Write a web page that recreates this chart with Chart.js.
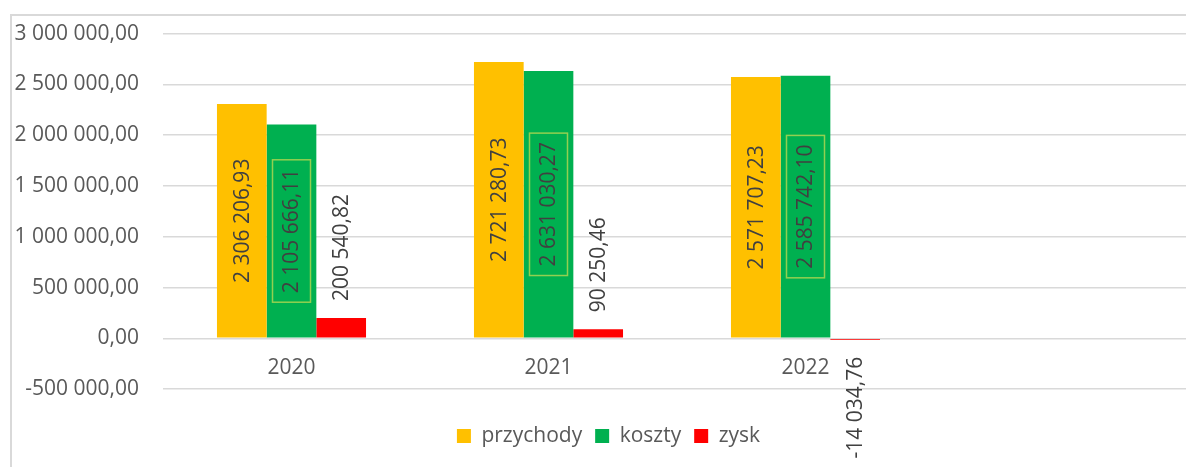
<!DOCTYPE html>
<html lang="pl">
<head>
<meta charset="utf-8">
<title>przychody, koszty, zysk</title>
<script src="https://cdn.jsdelivr.net/npm/chart.js@4.4.1/dist/chart.umd.min.js"></script>
<style>
  html, body { margin: 0; padding: 0; background: #fff; overflow: hidden; }
  body { width: 1186px; height: 467px; position: relative; }
  .frame {
    position: absolute; left: 10px; top: 14px;
    width: 1300px; height: 600px;
    border: 2px solid #d9d9d9; box-sizing: border-box;
  }
  .wrap { position: absolute; left: 0; top: -3px; width: 1200px; height: 467px; }
</style>
</head>
<body>
<div class="frame"></div>
<div class="wrap"><canvas id="chart"></canvas></div>
<script>
// --- DATA ---
const categories = ["2020", "2021", "2022", ""];
const przychody = [2306206.93, 2721280.73, 2571707.23, null];
const koszty = [2105666.11, 2631030.27, 2585742.1, null];
const zysk = [200540.82, 90250.46, -14034.76, null];
const yTicksMin = -500000;
const yTicksMax = 3000000;
const yTicksStep = 500000;

const FONT = '"Open Sans", "Noto Sans", sans-serif';

// 1234567.8 -> "1 234 567,80"
function plFormat(v) {
  const parts = Math.abs(v).toFixed(2).split(".");
  const whole = parts[0].replace(/\B(?=(\d{3})+(?!\d))/g, " ");
  return (v < 0 ? "-" : "") + whole + "," + parts[1];
}

// --- VALUE LABELS (rotated, like the Excel data labels) ---
const valueLabels = {
  id: "valueLabels",
  afterLayout(chart) {
    // Excel centres the legend a bit to the right of the plot's centre
    if (chart.legend) chart.legend.left += 26;
  },
  afterDatasetsDraw(chart) {
    const ctx = chart.ctx;
    chart.data.datasets.forEach((ds, i) => {
      const meta = chart.getDatasetMeta(i);
      if (meta.hidden) return;
      meta.data.forEach((bar, j) => {
        const v = ds.data[j];
        if (v == null) return;
        const text = plFormat(v);
        ctx.save();
        ctx.font = "21px " + FONT;
        const w = ctx.measureText(text).width;
        let cy;
        if (ds.labelMode === "inside") {
          cy = (bar.y + bar.base) / 2;
        } else if (v >= 0) {
          cy = bar.y - 17 - w / 2;
        } else {
          cy = Math.max(bar.y, bar.base) + 17 + w / 2;
        }
        ctx.translate(bar.x, cy);
        ctx.rotate(-Math.PI / 2);
        ctx.textAlign = "center";
        ctx.textBaseline = "middle";
        ctx.fillStyle = "#404040";
        ctx.fillText(text, 0, 1);
        if (ds.labelBox) {
          ctx.strokeStyle = ds.labelBox;
          ctx.lineWidth = 1.5;
          ctx.strokeRect(-w / 2 - 9, -19, w + 18, 38);
        }
        ctx.restore();
      });
    });
  }
};

document.addEventListener("DOMContentLoaded", () => {
  const ctx = document.getElementById("chart").getContext("2d");

  new Chart(ctx, {
    type: "bar",
    data: {
      labels: categories,
      datasets: [
        {
          label: "przychody",
          data: przychody,
          backgroundColor: "#FFC000",
          labelMode: "inside"
        },
        {
          label: "koszty",
          data: koszty,
          backgroundColor: "#00B050",
          labelMode: "inside",
          labelBox: "#92D050"
        },
        {
          label: "zysk",
          data: zysk,
          backgroundColor: "#FF0000",
          labelMode: "outside"
        }
      ]
    },
    options: {
      responsive: true,
      maintainAspectRatio: false,
      animation: false,
      layout: { padding: { top: 30, left: 0, right: 9, bottom: 7.5 } },
      datasets: {
        bar: { categoryPercentage: 0.58, barPercentage: 1.0, borderWidth: 0 }
      },
      scales: {
        x: {
          position: { y: 0 },
          grid: { display: false, drawTicks: false },
          border: { display: false },
          ticks: {
            color: "#595959",
            font: { family: FONT, size: 21 },
            padding: 17,
            maxRotation: 0
          }
        },
        y: {
          min: yTicksMin,
          max: yTicksMax,
          afterFit: (scale) => { scale.width = 163; },
          grid: { color: "#d9d9d9", lineWidth: 1.5, drawTicks: false },
          border: { display: false },
          ticks: {
            stepSize: yTicksStep,
            color: "#595959",
            font: { family: FONT, size: 21 },
            padding: 24,
            callback: (value) => plFormat(value)
          }
        }
      },
      plugins: {
        legend: {
          position: "bottom",
          title: { display: true, text: "", padding: 4.5, font: { size: 12 } },
          labels: {
            boxWidth: 14,
            boxHeight: 14,
            padding: 13,
            color: "#595959",
            font: { family: FONT, size: 21 }
          }
        },
        tooltip: { enabled: false }
      }
    },
    plugins: [valueLabels]
  });
});
</script>
</body>
</html>
